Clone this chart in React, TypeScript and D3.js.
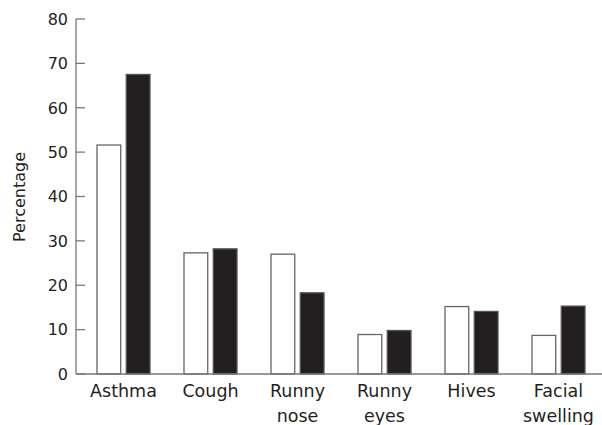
import React from "react";
import * as d3 from "d3";

const categories = ["Asthma", "Cough", "Runny nose", "Runny eyes", "Hives", "Facial swelling"];
const categoryLines = [["Asthma"], ["Cough"], ["Runny", "nose"], ["Runny", "eyes"], ["Hives"], ["Facial", "swelling"]];
const seriesNames = ["open", "filled"];
const openValues = [51.6, 27.3, 27.0, 8.9, 15.2, 8.7];
const filledValues = [67.5, 28.2, 18.3, 9.8, 14.1, 15.3];
const yTicks = [0, 10, 20, 30, 40, 50, 60, 70, 80];

const W = 602;
const H = 425;
const font = "'DejaVu Sans', sans-serif";
const ink = "#231f20";
const axisColor = "#777";

export default function App() {
  const y = d3.scaleLinear().domain([0, 80]).range([374, 19]);
  const x = d3.scaleBand<string>().domain(categories).range([80, 602]).padding(0);
  const groupW = 53;
  const inner = d3.scaleBand<string>().domain(seriesNames).range([0, groupW]).paddingInner(0.19);
  const off = (x.bandwidth() - groupW) / 2;
  const values = [openValues, filledValues];

  return (
    <svg width={W} height={H} style={{ position: "absolute", left: 0, top: 0 }} fontFamily={font}>
      {categories.map((c, i) =>
        seriesNames.map((s, j) => {
          const v = values[j][i];
          const bx = (x(c) as number) + off + (inner(s) as number);
          return (
            <rect
              key={c + s}
              x={bx}
              y={y(v)}
              width={inner.bandwidth()}
              height={y(0) - y(v)}
              fill={j === 0 ? "#fff" : ink}
              stroke={j === 0 ? "#666" : "#555"}
              strokeWidth={1.3}
            />
          );
        })
      )}
      <line x1={76} x2={76} y1={y(80)} y2={y(0)} stroke={axisColor} strokeWidth={1.3} />
      <line x1={76} x2={602} y1={y(0)} y2={y(0)} stroke={axisColor} strokeWidth={1.3} />
      {yTicks.map((t) => (
        <g key={t}>
          <line x1={76} x2={85} y1={y(t)} y2={y(t)} stroke={axisColor} strokeWidth={1.3} />
          <text x={68} y={y(t)} dy="0.36em" textAnchor="end" fontSize={16} fill={ink}>
            {t}
          </text>
        </g>
      ))}
      {categories.map((c, i) => (
        <text key={c} textAnchor="middle" fontSize={17.5} fill={ink}>
          {categoryLines[i].map((ln, k) => (
            <tspan key={k} x={(x(c) as number) + x.bandwidth() / 2} y={397 + k * 25}>
              {ln}
            </tspan>
          ))}
        </text>
      ))}
      <text transform="translate(25,197) rotate(-90)" textAnchor="middle" fontSize={16} fill={ink}>
        Percentage
      </text>
    </svg>
  );
}
